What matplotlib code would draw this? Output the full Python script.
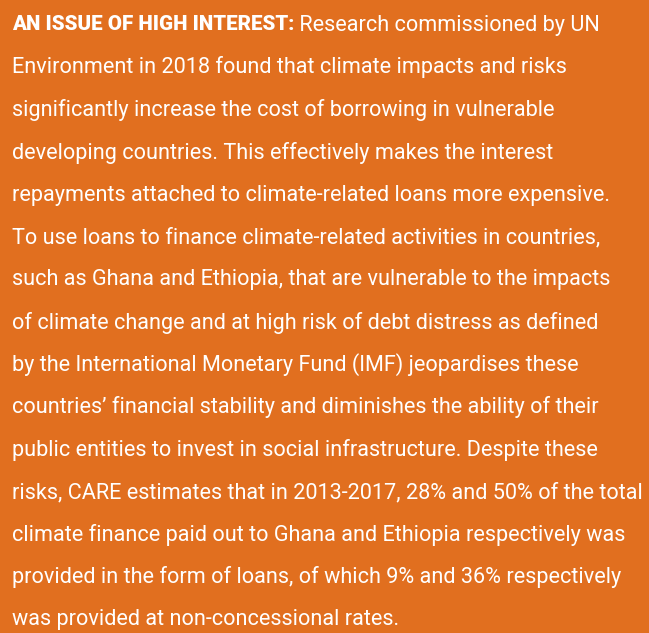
"""Recreate the orange text panel about climate loans."""

import matplotlib
matplotlib.use("Agg")
import matplotlib.pyplot as plt

BG_COLOR = "#e16f1f"
TEXT_COLOR = "white"

LEAD = "AN ISSUE OF HIGH INTEREST:"
LINES = [
    " Research commissioned by UN",
    "Environment in 2018 found that climate impacts and risks",
    "significantly increase the cost of borrowing in vulnerable",
    "developing countries. This effectively makes the interest",
    "repayments attached to climate-related loans more expensive.",
    "To use loans to finance climate-related activities in countries,",
    "such as Ghana and Ethiopia, that are vulnerable to the impacts",
    "of climate change and at high risk of debt distress as defined",
    "by the International Monetary Fund (IMF) jeopardises these",
    "countries\u2019 financial stability and diminishes the ability of their",
    "public entities to invest in social infrastructure. Despite these",
    "risks, CARE estimates that in 2013-2017, 28% and 50% of the total",
    "climate finance paid out to Ghana and Ethiopia respectively was",
    "provided in the form of loans, of which 9% and 36% respectively",
    "was provided at non-concessional rates.",
]

FAMILY = "Roboto"

W, H = 649, 633
fig = plt.figure(figsize=(W / 100, H / 100), dpi=100)
fig.patch.set_facecolor(BG_COLOR)
ax = fig.add_axes([0, 0, 1, 1])
ax.set_xlim(0, W)
ax.set_ylim(H, 0)
ax.axis("off")

x0 = 12
y_first, step = 25, 42.5
size = 15.6

lead = ax.text(x0, y_first, LEAD, color=TEXT_COLOR, family=FAMILY, weight="black",
               fontsize=14.8, va="center", ha="left")
fig.canvas.draw()
bb = lead.get_window_extent().transformed(ax.transData.inverted())
lead_end = bb.x1

for i, line in enumerate(LINES):
    x = lead_end if i == 0 else x0
    ax.text(x, y_first + i * step, line, color=TEXT_COLOR, family=FAMILY,
            fontsize=size, va="center", ha="left")

fig.savefig("out.png", dpi=100, facecolor=BG_COLOR)
